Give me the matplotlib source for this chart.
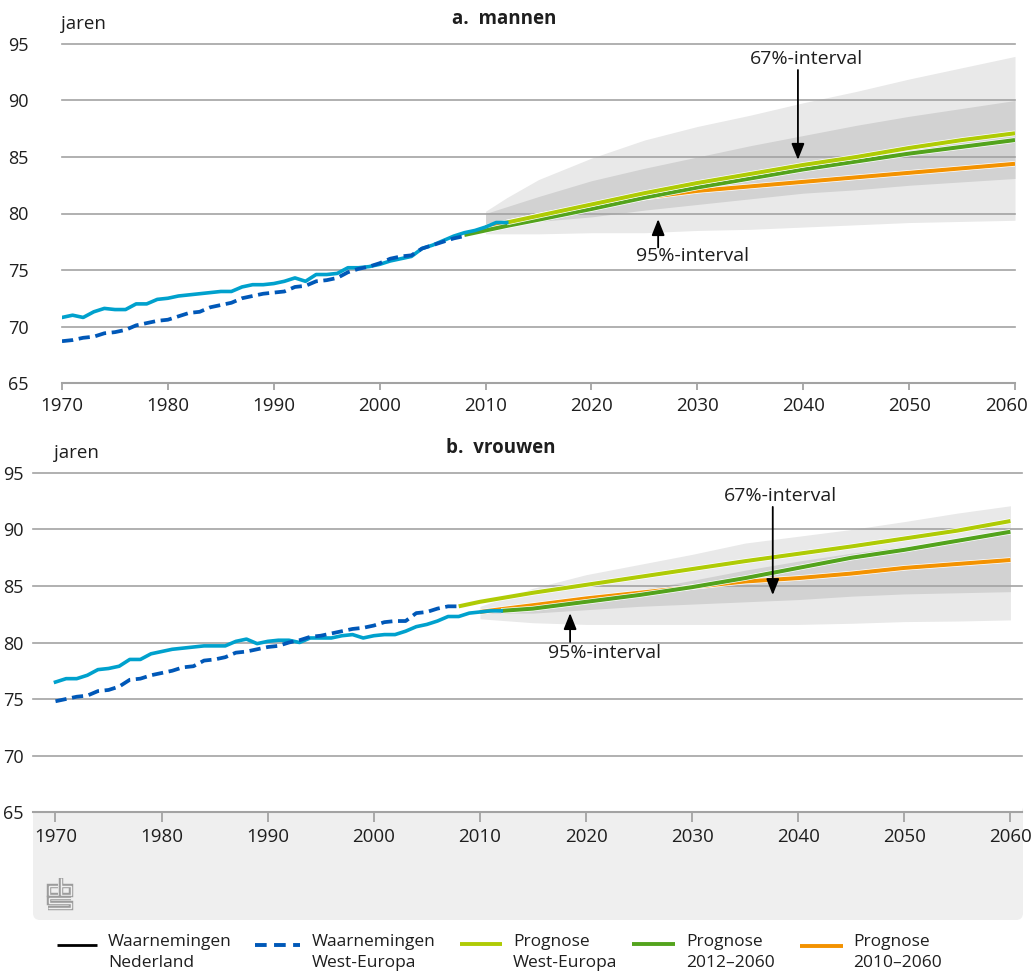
import matplotlib
matplotlib.use('Agg')
import matplotlib.pyplot as plt
import matplotlib.patheffects as pe
from matplotlib.patches import FancyBboxPatch
from matplotlib.lines import Line2D
from matplotlib.transforms import IdentityTransform, ScaledTranslation

plt.rcParams['font.family'] = ['Open Sans', 'DejaVu Sans']

# ---------------- data ----------------
obs_years_nl = list(range(1970, 2013))
obs_years_we = list(range(1970, 2009))

men_nl = [70.8, 71.0, 70.8, 71.3, 71.6, 71.5, 71.5, 72.0, 72.0, 72.4,
          72.5, 72.7, 72.8, 72.9, 73.0, 73.1, 73.1, 73.5, 73.7, 73.7,
          73.8, 74.0, 74.3, 74.0, 74.6, 74.6, 74.7, 75.2, 75.2, 75.3,
          75.5, 75.8, 76.0, 76.2, 76.9, 77.2, 77.6, 78.0, 78.3, 78.5,
          78.8, 79.2, 79.2]
men_we = [68.7, 68.8, 69.0, 69.1, 69.4, 69.5, 69.7, 70.1, 70.3, 70.5,
          70.6, 70.9, 71.2, 71.3, 71.7, 71.9, 72.1, 72.5, 72.7, 72.9,
          73.0, 73.1, 73.5, 73.6, 74.0, 74.1, 74.3, 74.8, 75.1, 75.3,
          75.6, 76.0, 76.2, 76.3, 76.9, 77.2, 77.5, 77.8, 78.0]

women_nl = [76.5, 76.8, 76.8, 77.1, 77.6, 77.7, 77.9, 78.5, 78.5, 79.0,
            79.2, 79.4, 79.5, 79.6, 79.7, 79.7, 79.7, 80.1, 80.3, 79.9,
            80.1, 80.2, 80.2, 80.0, 80.4, 80.4, 80.4, 80.6, 80.7, 80.4,
            80.6, 80.7, 80.7, 81.0, 81.4, 81.6, 81.9, 82.3, 82.3, 82.6,
            82.7, 82.8, 82.8]
women_we = [74.8, 75.0, 75.2, 75.3, 75.7, 75.8, 76.1, 76.7, 76.8, 77.1,
            77.3, 77.5, 77.8, 77.9, 78.4, 78.5, 78.7, 79.1, 79.2, 79.4,
            79.6, 79.7, 80.0, 80.2, 80.5, 80.6, 80.8, 81.0, 81.2, 81.3,
            81.5, 81.8, 81.9, 81.9, 82.6, 82.7, 83.0, 83.2, 83.2]

# prognoses men
m_we_years = [2012, 2015, 2020, 2025, 2030, 2035, 2040, 2045, 2050, 2055, 2060]
m_we_vals = [79.2, 79.8, 80.8, 81.8, 82.7, 83.5, 84.3, 85.0, 85.8, 86.5, 87.1]
m_12_years = [2008, 2010, 2012, 2015, 2020, 2025, 2030, 2035, 2040, 2045, 2050, 2055, 2060]
m_12_vals = [78.1, 78.5, 78.9, 79.45, 80.4, 81.4, 82.3, 83.1, 83.9, 84.6, 85.3, 85.9, 86.5]
m_10_years = [2010, 2012, 2015, 2020, 2025, 2030, 2035, 2040, 2045, 2050, 2055, 2060]
m_10_vals = [78.8, 79.2, 79.8, 80.7, 81.4, 82.0, 82.4, 82.8, 83.2, 83.6, 84.0, 84.4]

m_fan_years = [2010, 2012, 2015, 2020, 2025, 2030, 2035, 2040, 2045, 2050, 2055, 2060]
m_95_hi = [80.2, 81.4, 83.0, 84.9, 86.5, 87.7, 88.7, 89.8, 90.8, 91.9, 92.9, 93.9]
m_67_hi = [80.0, 80.6, 81.5, 82.9, 84.0, 85.0, 86.0, 86.9, 87.8, 88.6, 89.3, 90.0]
m_67_lo = [79.0, 79.1, 79.3, 79.7, 80.3, 80.8, 81.3, 81.8, 82.1, 82.5, 82.8, 83.1]
m_95_lo = [78.2, 78.2, 78.2, 78.3, 78.3, 78.5, 78.6, 78.8, 79.0, 79.2, 79.3, 79.4]

# prognoses women
w_we_years = [2008, 2010, 2015, 2020, 2025, 2030, 2035, 2040, 2045, 2050, 2055, 2060]
w_we_vals = [83.2, 83.6, 84.4, 85.1, 85.8, 86.5, 87.2, 87.85, 88.5, 89.2, 89.9, 90.75]
w_12_years = [2012, 2015, 2020, 2025, 2030, 2035, 2040, 2045, 2050, 2055, 2060]
w_12_vals = [82.8, 83.0, 83.6, 84.2, 84.9, 85.7, 86.6, 87.5, 88.2, 89.0, 89.8]
w_10_years = [2010, 2012, 2015, 2020, 2025, 2030, 2035, 2040, 2045, 2050, 2055, 2060]
w_10_vals = [82.7, 82.95, 83.3, 83.9, 84.4, 84.9, 85.4, 85.7, 86.1, 86.6, 86.95, 87.3]

w_fan_years = [2010, 2015, 2020, 2025, 2030, 2035, 2040, 2045, 2050, 2055, 2060]
w_95_hi = [83.2, 84.8, 86.0, 86.9, 87.8, 88.8, 89.4, 90.0, 90.7, 91.45, 92.1]
w_67_hi = [82.9, 83.5, 84.1, 84.65, 85.5, 86.4, 87.2, 87.9, 88.5, 89.1, 89.7]
w_67_lo = [82.6, 82.6, 82.9, 83.2, 83.4, 83.6, 83.8, 84.1, 84.3, 84.4, 84.5]
w_95_lo = [82.1, 81.75, 81.6, 81.6, 81.6, 81.6, 81.6, 81.7, 81.85, 81.9, 82.0]

y_ticks = [65, 70, 75, 80, 85, 90, 95]
x_ticks = [1970, 1980, 1990, 2000, 2010, 2020, 2030, 2040, 2050, 2060]

legend_labels = [("Waarnemingen", "Nederland"), ("Waarnemingen", "West-Europa"),
                 ("Prognose", "West-Europa"), ("Prognose", "2012\u20132060"),
                 ("Prognose", "2010\u20132060")]

# ---------------- style ----------------
C_NL = '#00a1cd'
C_WE = '#0058b8'
C_PWE = '#afcb05'
C_P12 = '#53a31d'
C_P10 = '#f39200'
C_95 = '#e9e9e9'
C_67 = '#d2d2d2'
C_GRID = '#a3a3a3'
C_TXT = '#1e1e1e'
C_FOOT = '#efefef'

W, H = 1032, 972
fig = plt.figure(figsize=(W / 100, H / 100), dpi=100)


def fig_rect(l, t, r, b):
    return [l / W, 1 - b / H, (r - l) / W, (b - t) / H]


ax1 = fig.add_axes(fig_rect(62, 44, 1015, 383))
ax2 = fig.add_axes(fig_rect(33, 473, 1022, 812))

# footer background
foot = FancyBboxPatch((33, H - 920), 990, 115, boxstyle='round,pad=0,rounding_size=7',
                      transform=IdentityTransform(), fc=C_FOOT, ec='none', zorder=-10)
fig.add_artist(foot)

stroke = [pe.Stroke(linewidth=3.9, foreground='white'), pe.Normal()]


def setup(ax, xlim, tick_len, tick_pad, ylab_pad):
    ax.set_xlim(*xlim)
    ax.set_ylim(65, 95)
    ax.set_facecolor('white')
    for s in ['top', 'right', 'left']:
        ax.spines[s].set_visible(False)
    ax.spines['bottom'].set_color(C_GRID)
    ax.spines['bottom'].set_linewidth(1.5)
    ax.spines['bottom'].set_zorder(1.5)
    ax.set_xticks(x_ticks)
    ax.set_yticks(y_ticks)
    ax.tick_params(axis='x', length=tick_len, width=1.3, color=C_GRID, pad=tick_pad,
                   labelsize=13.5, labelcolor=C_TXT)
    ax.tick_params(axis='y', length=0, pad=ylab_pad, labelsize=13, labelcolor=C_TXT)
    for v in y_ticks[1:]:
        ax.axhline(v, color=C_GRID, lw=1.2, zorder=1.5, clip_on=False)


def draw_panel(ax, nl, we, fan_years, hi95, hi67, lo67, lo95, progs):
    ax.fill_between(fan_years, lo95, hi95, color=C_95, lw=0, zorder=1)
    ax.fill_between(fan_years, lo67, hi67, color=C_67, lw=0, zorder=1.1)
    for yrs, vals, col in progs:
        ax.plot(yrs, vals, color=col, lw=2.9, solid_capstyle='butt', zorder=3,
                path_effects=stroke)
    ax.plot(obs_years_nl, nl, color=C_NL, lw=2.6, zorder=4, solid_joinstyle='round')
    ax.plot(obs_years_we, we, color=C_WE, lw=2.7, dashes=(3.0, 1.5), zorder=5)


def arrow(ax, tail, tip):
    ax.annotate('', xy=tip, xytext=tail,
                arrowprops=dict(arrowstyle='-|>,head_length=0.7,head_width=0.28',
                                color='black', lw=1.3, mutation_scale=14,
                                shrinkA=0, shrinkB=0), zorder=6)


# top panel (men)
setup(ax1, (1970, 2060), 5, 5.0, 24)
draw_panel(ax1, men_nl, men_we, m_fan_years, m_95_hi, m_67_hi, m_67_lo, m_95_lo,
           [(m_10_years, m_10_vals, C_P10), (m_12_years, m_12_vals, C_P12),
            (m_we_years, m_we_vals, C_PWE)])
ax1.text(2040.3, 93.7, '67%-interval', ha='center', va='center', fontsize=14, color=C_TXT, zorder=6)
arrow(ax1, (2039.5, 92.7), (2039.5, 84.75))
ax1.text(2029.5, 76.2, '95%-interval', ha='center', va='center', fontsize=14, color=C_TXT, zorder=6)
arrow(ax1, (2026.3, 77.0), (2026.3, 79.5))
# last x label nudged left so it stays inside the picture, as in the original
last_lab = ax1.get_xticklabels()[-1]
last_lab.set_transform(last_lab.get_transform() + ScaledTranslation(-8 / 100, 0, fig.dpi_scale_trans))

# bottom panel (women)
setup(ax2, (1967.88, 2061.09), 7, 4.5, 6.5)
draw_panel(ax2, women_nl, women_we, w_fan_years, w_95_hi, w_67_hi, w_67_lo, w_95_lo,
           [(w_10_years, w_10_vals, C_P10), (w_12_years, w_12_vals, C_P12),
            (w_we_years, w_we_vals, C_PWE)])
ax2.text(2038.3, 93.0, '67%-interval', ha='center', va='center', fontsize=14, color=C_TXT, zorder=6)
arrow(ax2, (2037.6, 92.0), (2037.6, 84.2))
ax2.text(2021.7, 79.1, '95%-interval', ha='center', va='center', fontsize=14, color=C_TXT, zorder=6)
arrow(ax2, (2018.5, 80.05), (2018.5, 82.6))

# titles and unit labels
fig.text(504 / W, 1 - 19 / H, 'a.  mannen', ha='center', va='center', fontsize=13.5,
         fontweight='bold', color=C_TXT)
fig.text(501 / W, 1 - 448 / H, 'b.  vrouwen', ha='center', va='center', fontsize=13.5,
         fontweight='bold', color=C_TXT)
fig.text(61 / W, 1 - 29 / H, 'jaren', ha='left', va='baseline', fontsize=13.5, color=C_TXT)
fig.text(54 / W, 1 - 458 / H, 'jaren', ha='left', va='baseline', fontsize=13.5, color=C_TXT)

# cbs logo (outlined)
logo_paths = [
    [(58, 886), (48.5, 886), (48.5, 895), (58, 895)],
    [(60.5, 878), (60.5, 895), (70.5, 895), (70.5, 886), (60.5, 886)],
    [(71, 897.5), (48.5, 897.5), (48.5, 902.5), (70.5, 902.5), (70.5, 907.5), (48, 907.5)],
]
for path in logo_paths:
    xs = [p[0] for p in path]
    ys = [H - p[1] for p in path]
    fig.add_artist(Line2D(xs, ys, transform=IdentityTransform(), color='#9c9c9c', lw=3.2,
                          solid_joinstyle='miter', solid_capstyle='butt'))
    fig.add_artist(Line2D(xs, ys, transform=IdentityTransform(), color=C_FOOT, lw=1.0,
                          solid_joinstyle='miter', solid_capstyle='butt'))

# legend (manual)
leg_items = [
    (57, 97, 945, 'black', None),
    (255, 300, 945, C_WE, (3.0, 1.9)),
    (460, 502, 944, C_PWE, None),
    (632, 675, 944, C_P12, None),
    (800, 843, 946, C_P10, None),
]
leg_text_x = [108, 312, 513, 686, 853]
for (x0, x1, yy, col, dash), tx, (l1, l2) in zip(leg_items, leg_text_x, legend_labels):
    ln = Line2D([x0, x1], [H - yy, H - yy], transform=IdentityTransform(), color=col,
                lw=2.8 if col != 'black' else 2.0, solid_capstyle='butt')
    if dash:
        ln.set_dashes(dash)
    fig.add_artist(ln)
    fig.text(tx / W, 1 - 942 / H, l1, ha='left', va='center', fontsize=12.5, color=C_TXT)
    fig.text(tx / W, 1 - 963 / H, l2, ha='left', va='center', fontsize=12.5, color=C_TXT)

fig.savefig('out.png', dpi=100)
